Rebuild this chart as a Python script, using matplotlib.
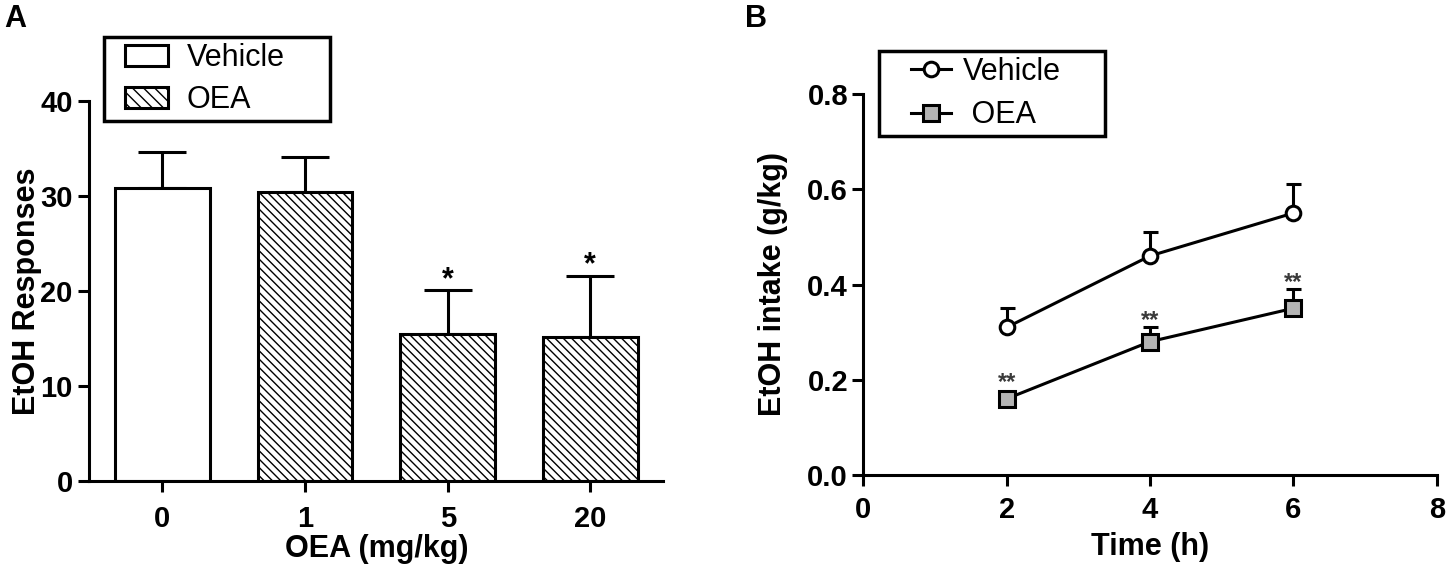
import matplotlib
matplotlib.use('Agg')
import matplotlib.pyplot as plt
import numpy as np
from matplotlib.patches import Patch
from matplotlib.lines import Line2D
from matplotlib.legend_handler import HandlerPatch, HandlerLine2D

plt.rcParams['font.family'] = ['Liberation Sans', 'DejaVu Sans']
plt.rcParams['font.weight'] = 'bold'
plt.rcParams['axes.labelweight'] = 'bold'
plt.rcParams['hatch.linewidth'] = 1.0

## Panel A: EtOH responses per OEA dose
doses = ['0', '1', '5', '20']
responses = [30.8, 30.4, 15.5, 15.1]
responses_sem = [3.8, 3.7, 4.6, 6.5]
dose_groups = ['Vehicle', 'OEA', 'OEA', 'OEA']
dose_signif = ['', '', '*', '*']

## Panel B: EtOH intake over time
hours = [2, 4, 6]
vehicle_intake = [0.31, 0.46, 0.55]
vehicle_sem = [0.04, 0.05, 0.06]
oea_intake = [0.16, 0.28, 0.35]
oea_sem = [0.01, 0.03, 0.04]
oea_signif = ['**', '**', '**']

W, H = 1450, 574
LW = 2.2
HATCH = '\\\\\\\\'

fig = plt.figure(figsize=(W / 100, H / 100), dpi=100)


## helper: pixel box (left, top, right, bottom) -> figure rect
def px_rect(l, t, r, b):
    return [l / W, 1 - b / H, (r - l) / W, (b - t) / H]


def style_axes(ax):
    for side in ['top', 'right']:
        ax.spines[side].set_visible(False)
    for side in ['left', 'bottom']:
        ax.spines[side].set_linewidth(LW)
    ax.tick_params(width=LW, length=8, labelsize=21)


## ---------------- Panel A ----------------
axA = fig.add_axes(px_rect(89.3, 100.7, 663.3, 481))
x = np.arange(len(doses))
bars = axA.bar(x, responses, width=0.663, color='white', edgecolor='black',
               linewidth=LW, zorder=2)
for bar, grp in zip(bars, dose_groups):
    if grp == 'OEA':
        bar.set_hatch(HATCH)
axA.errorbar(x, responses, yerr=[np.zeros(len(x)), responses_sem], fmt='none',
             ecolor='black', elinewidth=LW, capsize=17, capthick=LW, zorder=1)
for i, s in enumerate(dose_signif):
    if s:
        axA.annotate(s, (x[i], responses[i] + responses_sem[i]), xytext=(0, 1.5),
                     textcoords='offset points', ha='center', va='baseline',
                     fontsize=22, fontweight='bold')

axA.set_xlim(-0.513, 3.512)
axA.set_ylim(0, 40)
axA.set_yticks([0, 10, 20, 30, 40])
axA.set_xticks(x, doses)
style_axes(axA)
axA.tick_params(axis='x', pad=9)
axA.tick_params(axis='y', pad=4)
axA.set_xlabel('OEA (mg/kg)', fontsize=22, va='center')
axA.xaxis.set_label_coords(0.5, -0.179)
axA.set_ylabel('EtOH Responses', fontsize=22, va='center')
axA.yaxis.set_label_coords(-0.108, 0.5)

handlesA = [Patch(facecolor='white', edgecolor='black', linewidth=LW, label='Vehicle'),
            Patch(facecolor='white', edgecolor='black', linewidth=LW, hatch='\\\\\\',
                  label='OEA')]
legA = fig.legend(handles=handlesA, loc='upper left', mode='expand',
                  bbox_to_anchor=px_rect(104, 37, 330, 121), borderaxespad=0,
                  prop={'size': 22, 'weight': 'normal'}, fancybox=False,
                  borderpad=0.2, labelspacing=0.4, handlelength=1.88,
                  handleheight=0.69, handletextpad=0.62,
                  handler_map={Patch: HandlerPatch(xpad=0.5)})
legA.get_frame().set_edgecolor('black')
legA.get_frame().set_linewidth(2.5)
legA.get_frame().set_alpha(1)

## ---------------- Panel B ----------------
axB = fig.add_axes(px_rect(863.3, 94, 1436.7, 475))
axB.errorbar(hours, vehicle_intake, yerr=[np.zeros(3), vehicle_sem], fmt='none',
             ecolor='black', elinewidth=LW, capsize=5.4, capthick=LW, zorder=2)
axB.errorbar(hours, oea_intake, yerr=[np.zeros(3), oea_sem], fmt='none',
             ecolor='black', elinewidth=LW, capsize=5.4, capthick=LW, zorder=2)
lineV, = axB.plot(hours, vehicle_intake, '-o', color='black', lw=LW, ms=10.5,
                  mfc='white', mec='black', mew=LW, zorder=3, label='Vehicle')
lineO, = axB.plot(hours, oea_intake, '-s', color='black', lw=LW, ms=11.5,
                  mfc='#b4b4b4', mec='black', mew=LW, zorder=3, label=' OEA')
for h, v, e, s in zip(hours, oea_intake, oea_sem, oea_signif):
    axB.annotate(s, (h, v + max(e, 0.02)), xytext=(0, 0), textcoords='offset points',
                 ha='center', va='baseline', fontsize=17, fontweight='bold',
                 color='#3a3a3a')

axB.set_xlim(0, 8)
axB.set_ylim(0, 0.8)
axB.set_xticks([0, 2, 4, 6, 8])
axB.set_yticks([0.0, 0.2, 0.4, 0.6, 0.8])
axB.yaxis.set_major_formatter(matplotlib.ticker.FormatStrFormatter('%.1f'))
style_axes(axB)
axB.tick_params(axis='x', pad=7)
axB.tick_params(axis='y', pad=3)
axB.set_xlabel('Time (h)', fontsize=22, va='center')
axB.xaxis.set_label_coords(0.5, -0.19)
axB.set_ylabel('EtOH intake (g/kg)', fontsize=22, va='center')
axB.yaxis.set_label_coords(-0.158, 0.5)

legB = fig.legend(handles=[lineV, lineO], loc='upper left', mode='expand',
                  bbox_to_anchor=px_rect(879, 51, 1105, 135), borderaxespad=0,
                  prop={'size': 22, 'weight': 'normal'}, fancybox=False,
                  borderpad=0.18, labelspacing=0.45, handlelength=2.19,
                  handletextpad=0.39,
                  handler_map={Line2D: HandlerLine2D(xpad=0.88)})
legB.get_frame().set_edgecolor('black')
legB.get_frame().set_linewidth(2.5)
legB.get_frame().set_alpha(1)

## panel letters
fig.text(4 / W, 1 - 4 / H, 'A', ha='left', va='top', fontsize=22, fontweight='bold')
fig.text(745 / W, 1 - 4 / H, 'B', ha='left', va='top', fontsize=22, fontweight='bold')

fig.savefig('out.png', dpi=100)
